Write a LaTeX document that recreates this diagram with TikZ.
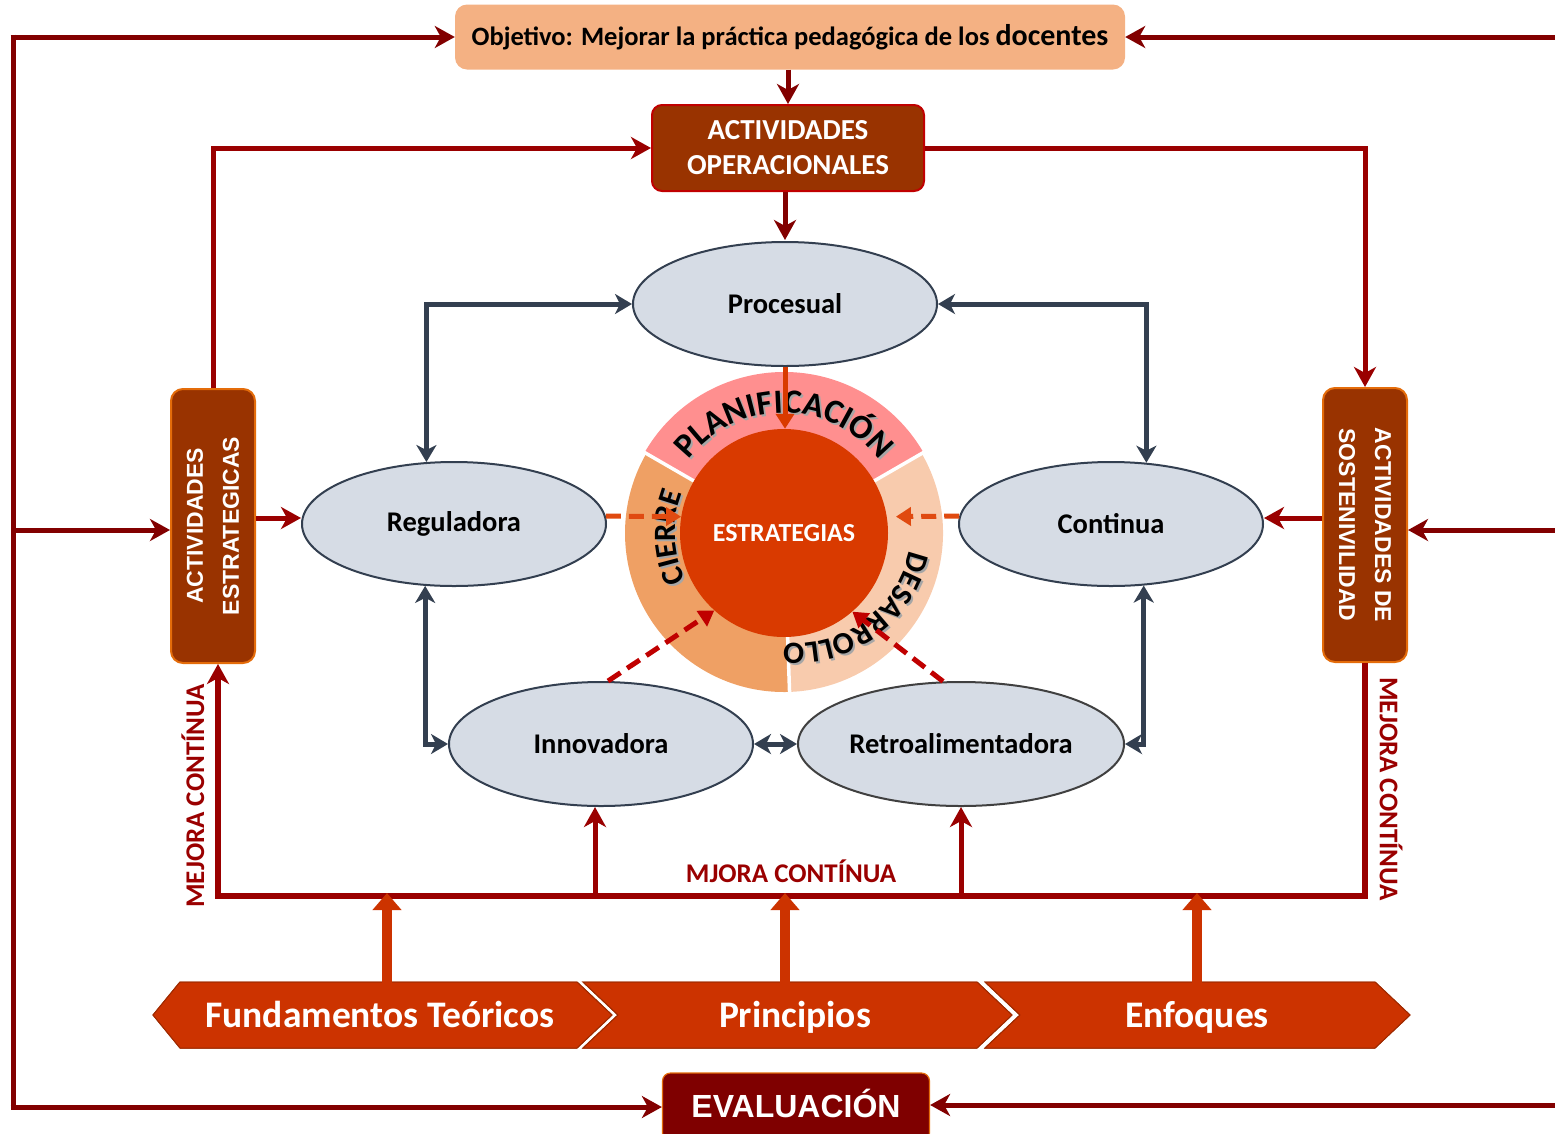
\documentclass[tikz,border=0pt]{standalone}
\usepackage{fontspec}
\setmainfont{Carlito}
\newfontfamily\arialfont{Liberation Sans}
\usetikzlibrary{shapes.geometric,arrows.meta,calc,decorations.text}

\definecolor{objfill}{HTML}{F4B183}
\definecolor{brownbox}{HTML}{993300}
\definecolor{boxred}{HTML}{C00000}
\definecolor{boxorange}{HTML}{E46C0A}
\definecolor{ellfill}{HTML}{D6DCE5}
\definecolor{slate}{HTML}{333F50}
\definecolor{dred}{HTML}{9A0000}
\definecolor{outred}{HTML}{820000}
\definecolor{core}{HTML}{D93A00}
\definecolor{ringpink}{HTML}{FF8F8F}
\definecolor{ringpeach}{HTML}{F8CBAD}
\definecolor{ringtan}{HTML}{EFA064}
\definecolor{chev}{HTML}{CC3300}
\definecolor{chevline}{HTML}{9E2A00}
\definecolor{evalfill}{HTML}{7F0000}
\definecolor{dashorange}{HTML}{E04A10}
\definecolor{dashred}{HTML}{C00000}

\newcommand\fsz[1]{\fontsize{#1}{#1}\selectfont}
\newcommand\ringtxt{\fontsize{34}{36}\selectfont\bfseries}
\newcommand\ringtxtsm{\fontsize{31}{33}\selectfont\bfseries}

\tikzset{
  stage/.style={ellipse, draw=slate, line width=2pt, fill=ellfill,
    minimum width=304pt, minimum height=124pt, inner sep=0pt,
    font=\fsz{28.5}\bfseries},
  brownv/.style={rounded corners=12pt, fill=brownbox, draw=boxorange,
    line width=2pt, minimum width=84pt, minimum height=274pt, inner sep=0pt},
  vlabel/.style={text=white, align=center,
    font=\arialfont\fontsize{23}{36}\selectfont\bfseries},
  redline/.style={draw=dred, line width=5pt},
  outline/.style={draw=outred, line width=5pt},
  redtip/.style={-{Stealth[length=20pt,width=22pt,inset=6pt]}},
  slateline/.style={draw=slate, line width=5pt,
    {Stealth[length=17pt,width=20pt,inset=5pt]}-{Stealth[length=17pt,width=20pt,inset=5pt]}},
  dashline/.style={line width=5pt, dash pattern=on 15pt off 8pt,
    -{Triangle[length=15pt,width=18pt]}},
  uparrow/.style={draw=chev, line width=10pt, shorten >=-3pt,
    -{Triangle[length=17pt,width=28pt]}},
  chevshape/.style={fill=chev, draw=chevline, line width=1pt},
  chevtext/.style={text=white, font=\fsz{37.5}\bfseries, minimum width=380pt,
    minimum height=66pt, inner sep=0pt, text height=26pt, text depth=6pt},
  mejora/.style={text=dred, font=\fsz{27}\bfseries, inner sep=0pt},
}

\begin{document}
\begin{tikzpicture}[x=1pt,y=-1pt]
\useasboundingbox (0,0) rectangle (1555,1133);

% ---------- boxes ----------
\node[rounded corners=12pt, fill=objfill, minimum width=670pt, minimum height=65pt,
      inner sep=0pt, font=\fsz{26.5}\bfseries] (obj) at (790,37)
      {Objetivo: Mejorar la práctica pedagógica de los {\fsz{30}docentes}};
\node[rounded corners=10pt, fill=brownbox, draw=boxred, line width=2pt,
      minimum width=272pt, minimum height=86pt, inner sep=0pt, align=center,
      text=white, font=\fontsize{29}{35}\selectfont\bfseries] (ao) at (788,148)
      {ACTIVIDADES\\OPERACIONALES};
\node[brownv] (ae) at (213,526) {};
\node[vlabel, rotate=90] (aetxt) at (ae.center) {ACTIVIDADES\\ESTRATEGICAS};
\node[brownv] (ads) at (1365,525) {};
\node[vlabel, rotate=-90] (adstxt) at (ads.center) {ACTIVIDADES DE\\SOSTENIVILIDAD};

% ---------- stages ----------
\node[stage] (proc) at (785,304) {Procesual};
\node[stage] (reg) at (454,524) {Reguladora};
\node[stage] (cont) at (1111,524) {Continua};
\node[stage] (inno) at (601,744) {Innovadora};
\node[stage, draw=black!75, minimum width=326pt] (retro) at (961,744) {Retroalimentadora};

% ---------- central ring ----------
\coordinate (C) at (784,533);
\fill[ringpink] (C) -- +(-150:161) arc[start angle=-150, end angle=-30, radius=161] -- cycle;
\fill[ringpeach] (C) -- +(-30:159) arc[start angle=-30, end angle=88, radius=159] -- cycle;
\fill[ringtan] (C) -- +(88:159) arc[start angle=88, end angle=210, radius=159] -- cycle;
\foreach \a in {-150,-30,88}
  \draw[white, line width=3.5pt] ($(C)+(\a:95)$) -- ($(C)+(\a:166)$);
\node[circle, fill=core, minimum size=208pt, inner sep=0pt, text=white,
      font=\fsz{26}\bfseries] (core) at (C) {ESTRATEGIAS};

% ring labels (soft shadow first, then the text)
\foreach \dx/\col in {2/black!35, 0/black}{
  \path[decorate, decoration={text along path, text color=\col, text align=center,
      text={|\ringtxt|PLANIFICACIÓN}}]
      ($(C)+(\dx,\dx)$) ++(-160:120) arc[start angle=-160, end angle=-20, radius=120];
  \path[decorate, decoration={text along path, text color=\col, text align=center,
      text={|\ringtxtsm|CIERRE}}]
      ($(C)+(\dx,\dx)$) ++(136:109) arc[start angle=136, end angle=220, radius=109];
  \path[decorate, decoration={text along path, text color=\col, text align=center,
      text={|\ringtxtsm|DESARROLLO}}]
      ($(C)+(12+\dx,-6+\dx)$) ++(4:116) arc[start angle=4, end angle=104, radius=116];
}

% ---------- arrows into the core ----------
\draw[draw=core, line width=5pt, -{Triangle[length=15pt,width=18pt]}]
  (proc.south) -- (proc.south |- core.north);
\draw[dashline, draw=dashorange] (reg.3) -- (core.171);
\draw[dashline, draw=dashorange, shorten >=9pt] (cont.177) -- (core.9);
\draw[dashline, draw=dashred] ([xshift=7pt]inno.north) -- (core.228);
\draw[dashline, draw=dashred] (retro.106) -- (core.-49);

% ---------- stage cycle ----------
\draw[slateline] (reg.114) |- (proc.west);
\draw[slateline] (cont.60) |- (proc.east);
\draw[slateline] (reg.-115) |- (inno.west);
\draw[slateline] (cont.-62) |- (retro.east);
\draw[slateline] (inno.east) -- (retro.west);

% ---------- red flow ----------
\draw[redline, draw=outred, redtip] (ao.north |- obj.south) -- (ao.north);
\draw[redline, draw=outred, redtip] (ao.south -| proc.north) -- ++(0,48);
\draw[redline, redtip] (ae.north) |- (ao.west);
\draw[redline, redtip] (ao.east) -| (ads.north);
\draw[redline, redtip] ([yshift=8pt]ae.east) -- ([yshift=6pt]reg.west);
\draw[redline, redtip] ([yshift=7pt]ads.west) -- ([yshift=6pt]cont.east);

% continuous improvement loop
\coordinate (mbl) at (218,896);
\draw[redline, line width=6pt, redtip] (ads.south) |- (mbl) -- (mbl |- ae.south);
\draw[redline, redtip] ([xshift=-6pt]inno.south |- mbl) -- ([xshift=-6pt]inno.south);
\draw[redline, redtip] (retro.south |- mbl) -- (retro.south);
\node[mejora, rotate=90] (mjl) at (193,796) {MEJORA CONTÍNUA};
\node[mejora, rotate=-90] (mjr) at (1391,789) {MEJORA CONTÍNUA};
\node[mejora] (mjc) at (791,871) {MJORA CONTÍNUA};

% ---------- foundations ----------
\fill[chevshape] (153,1015) -- (180,982) -- (577,982) -- (612,1015) -- (577,1048) -- (180,1048) -- cycle;
\fill[chevshape] (583,982) -- (977,982) -- (1012,1015) -- (977,1048) -- (583,1048) -- (618,1015) -- cycle;
\fill[chevshape] (985,982) -- (1375,982) -- (1410,1015) -- (1375,1048) -- (985,1048) -- (1020,1015) -- cycle;
\draw[chevshape] (153,1015) -- (180,982) -- (577,982) -- (612,1015) -- (577,1048) -- (180,1048) -- cycle;
\draw[chevshape] (583,982) -- (977,982) -- (1012,1015) -- (977,1048) -- (583,1048) -- (618,1015) -- cycle;
\draw[chevshape] (985,982) -- (1375,982) -- (1410,1015) -- (1375,1048) -- (985,1048) -- (1020,1015) -- cycle;
\node[chevtext] (fund) at (380,1017) {Fundamentos Teóricos};
\node[chevtext] (prin) at (795,1017) {Principios};
\node[chevtext] (enf) at (1197,1017) {Enfoques};
\draw[uparrow] ([xshift=7pt]fund.north) -- ([xshift=7pt]fund.north |- mbl);
\draw[uparrow] ([xshift=-10pt]prin.north) -- ([xshift=-10pt]prin.north |- mbl);
\draw[uparrow] (enf.north) -- (enf.north |- mbl);

% ---------- evaluation ----------
\node[rounded corners=8pt, fill=evalfill, draw=boxorange, line width=1.2pt,
      minimum width=267pt, minimum height=68pt, inner sep=0pt] (ev) at (796,1107) {};
\node[text=white, font=\arialfont\fsz{32}\bfseries, inner sep=0pt] (evtxt) at (796,1103) {EVALUACIÓN};

% ---------- outer feedback frame ----------
\coordinate (lt) at (13,37);
\coordinate (lm) at (13,530);
\coordinate (lb) at (13,1107);
\coordinate (rt) at (1560,37);
\coordinate (rm) at (1560,530);
\coordinate (rb) at (1560,1105);
\draw[outline] ([yshift=2.5pt]lt) -- ([yshift=-2.5pt]lb);
\draw[outline, redtip] ([xshift=-2.5pt]lt) -- (obj.west);
\draw[outline, redtip] (lm) -- (ae.west |- lm);
\draw[outline, redtip] ([xshift=-2.5pt]lb) -- (ev.west |- lb);
\draw[outline, redtip] (rt) -- (obj.east);
\draw[outline, redtip] (rm) -- (ads.east |- rm);
\draw[outline, redtip] (rb) -- (ev.east |- rb);
\end{tikzpicture}
\end{document}
